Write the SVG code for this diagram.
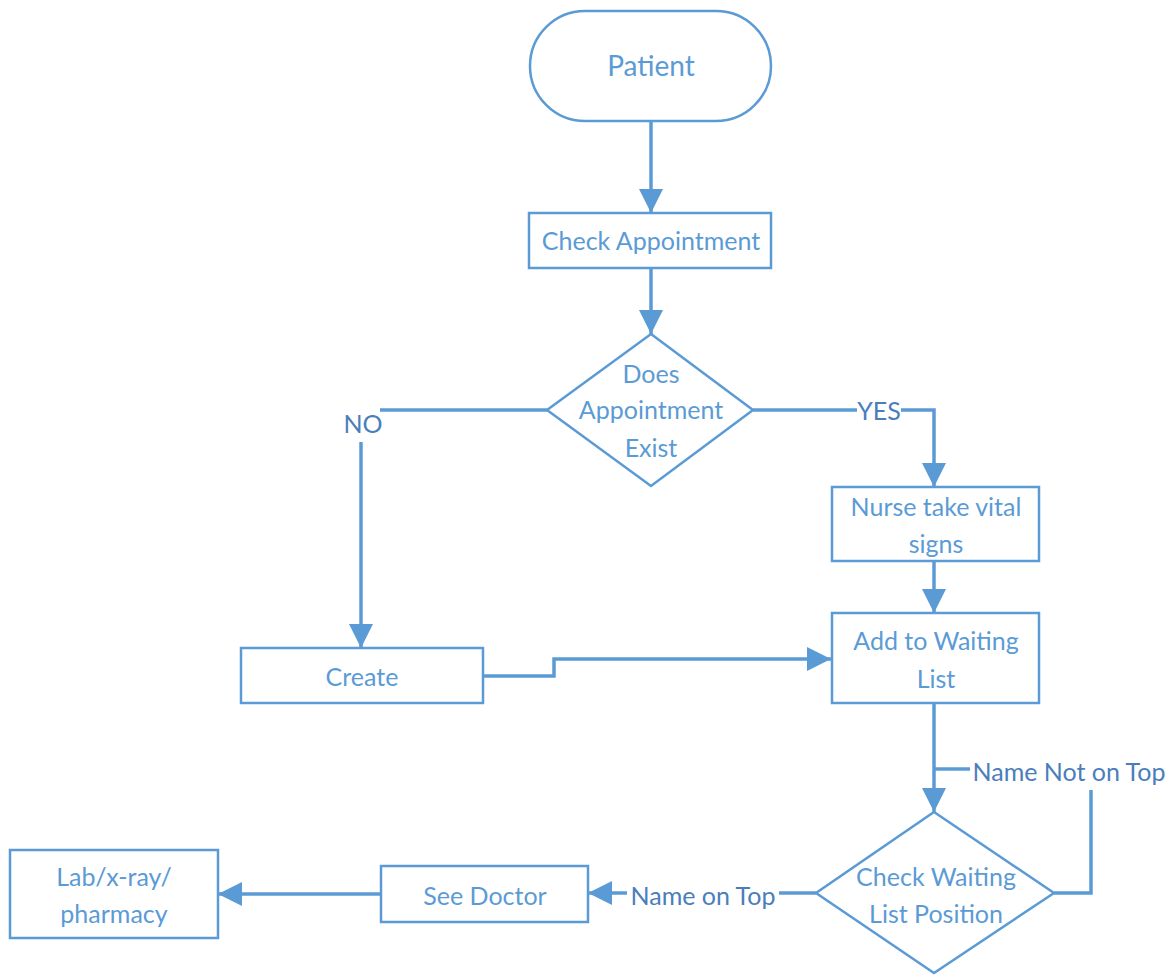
<svg xmlns="http://www.w3.org/2000/svg" width="1171" height="975" viewBox="0 0 1171 975">
<style>
.shape{fill:#fff;stroke:#5B9BD5;stroke-width:2.5}
.conn{fill:none;stroke:#5B9BD5;stroke-width:3.5}
.t{font-family:Lato,"Open Sans",sans-serif;font-size:25px;fill:#5B9BD5;text-anchor:middle;dominant-baseline:central}
.lbl{font-family:Lato,"Open Sans",sans-serif;font-size:25px;fill:#4A7EBB;text-anchor:middle;dominant-baseline:central}
</style>
<defs>
<marker id="arr" viewBox="0 0 24 24" refX="24" refY="12" markerWidth="24" markerHeight="24" markerUnits="userSpaceOnUse" orient="auto">
<path d="M0,0 L24,12 L0,24 Z" fill="#5B9BD5"/>
</marker>
</defs>
<rect width="1171" height="975" fill="#fff"/>
<g id="connectors">
<path class="conn" d="M651,121 V213" marker-end="url(#arr)"/>
<path class="conn" d="M651,268 V334" marker-end="url(#arr)"/>
<path class="conn" d="M547,410 H380"/>
<path class="conn" d="M361,442 V648" marker-end="url(#arr)"/>
<path class="conn" d="M753,410 H857"/>
<path class="conn" d="M901,410 H934 V487" marker-end="url(#arr)"/>
<path class="conn" d="M934,561 V613" marker-end="url(#arr)"/>
<path class="conn" d="M483,676 H554 V659 H831" marker-end="url(#arr)"/>
<path class="conn" d="M934,703 V812" marker-end="url(#arr)"/>
<path class="conn" d="M934,769 H970"/>
<path class="conn" d="M1091,790 V893 H1054"/>
<path class="conn" d="M816,893 H779"/>
<path class="conn" d="M627,893 H588" marker-end="url(#arr)"/>
<path class="conn" d="M381,894 H218" marker-end="url(#arr)"/>
</g>
<g id="patient">
<rect class="shape" x="530" y="11" width="241" height="110" rx="55" ry="55"/>
<text class="t" x="651" y="65" style="font-size:28px">Patient</text>
</g>
<g id="check-appointment">
<rect class="shape" x="529" y="213" width="242" height="55"/>
<text class="t" x="651" y="240">Check Appointment</text>
</g>
<g id="does-appointment-exist">
<polygon class="shape" points="651,334 753,410 651,486 547,410"/>
<text class="t" x="651" y="373">Does</text>
<text class="t" x="651" y="409">Appointment</text>
<text class="t" x="651" y="447">Exist</text>
</g>
<g id="create">
<rect class="shape" x="241" y="648" width="242" height="55"/>
<text class="t" x="362" y="676">Create</text>
</g>
<g id="nurse">
<rect class="shape" x="832" y="487" width="207" height="74"/>
<text class="t" x="936" y="506">Nurse take vital</text>
<text class="t" x="936" y="543">signs</text>
</g>
<g id="add-waiting">
<rect class="shape" x="832" y="613" width="207" height="90"/>
<text class="t" x="936" y="640">Add to Waiting</text>
<text class="t" x="936" y="678">List</text>
</g>
<g id="check-waiting">
<polygon class="shape" points="934,812 1054,893 934,973 816,893"/>
<text class="t" x="936" y="876">Check Waiting</text>
<text class="t" x="936" y="913">List Position</text>
</g>
<g id="see-doctor">
<rect class="shape" x="381" y="866" width="207" height="56"/>
<text class="t" x="485" y="895">See Doctor</text>
</g>
<g id="lab">
<rect class="shape" x="10" y="850" width="208" height="88"/>
<text class="t" x="114" y="876">Lab/x-ray/</text>
<text class="t" x="114" y="913">pharmacy</text>
</g>
<g id="labels">
<text class="lbl" x="363" y="423">NO</text>
<text class="lbl" x="879" y="410">YES</text>
<text class="lbl" x="1069" y="771">Name Not on Top</text>
<text class="lbl" x="703" y="895">Name on Top</text>
</g>
</svg>
